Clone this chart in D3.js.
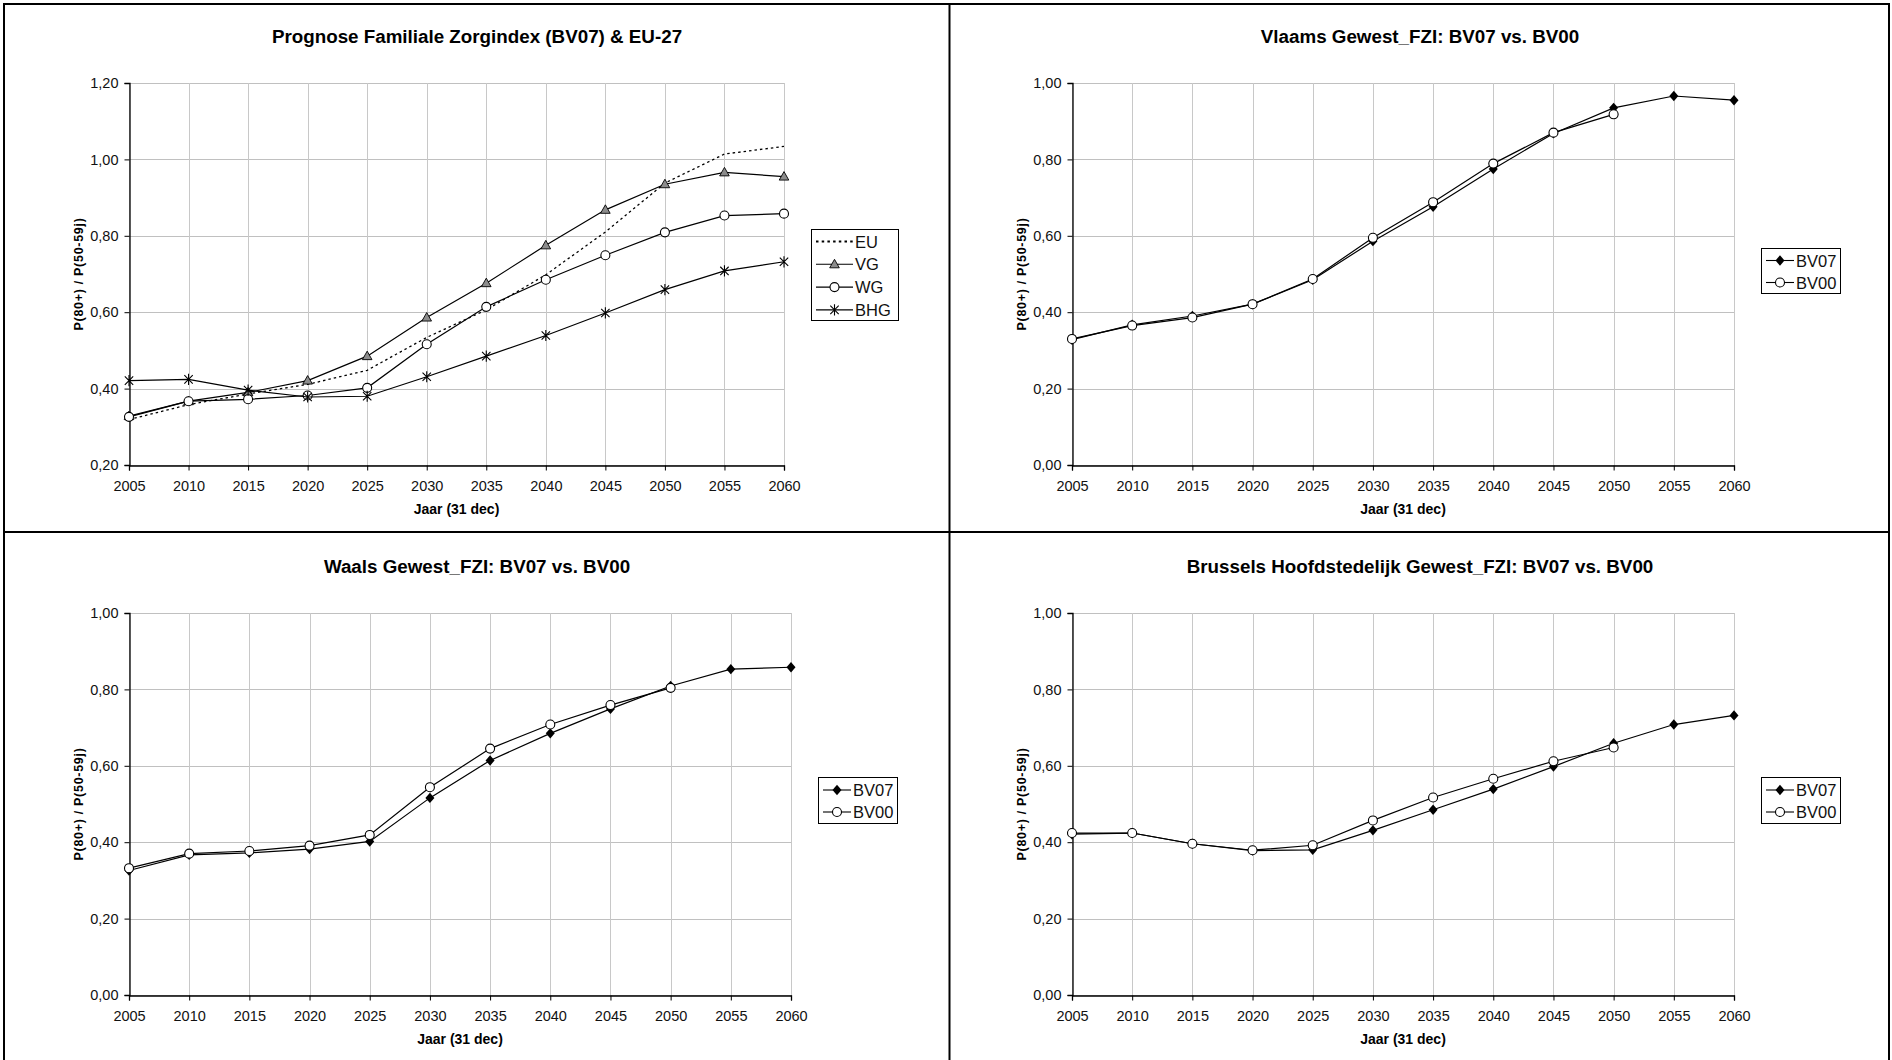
<!DOCTYPE html>
<html lang="nl">
<head>
<meta charset="utf-8">
<title>Prognose Familiale Zorgindex</title>
<script src="https://d3js.org/d3.v7.min.js"></script>
<style>
  body { margin: 0; background: #fff; }
  svg { display: block; font-family: "Liberation Sans", Arial, sans-serif; }
</style>
</head>
<body>
<svg id="chart" width="1892" height="1060"></svg>
<script>
// years on the x axis
var years = [2005, 2010, 2015, 2020, 2025, 2030, 2035, 2040, 2045, 2050, 2055, 2060]
var yearsBV00 = years.slice(0, 10)   // BV00 stops at 2050

// prognose BV07 per gewest
var vgBV07  = [0.328, 0.367, 0.390, 0.421, 0.485, 0.586, 0.676, 0.775, 0.868, 0.935, 0.966, 0.955]
var wgBV07  = [0.326, 0.367, 0.372, 0.382, 0.402, 0.516, 0.614, 0.685, 0.749, 0.809, 0.853, 0.858]
var bhgBV07 = [0.421, 0.424, 0.396, 0.378, 0.380, 0.431, 0.485, 0.539, 0.598, 0.659, 0.708, 0.732]
var euValues = [0.319, 0.358, 0.386, 0.411, 0.448, 0.534, 0.606, 0.698, 0.810, 0.938, 1.014, 1.034]

// older prognose BV00
var vgBV00  = [0.330, 0.365, 0.386, 0.421, 0.487, 0.595, 0.688, 0.789, 0.870, 0.918]
var wgBV00  = [0.332, 0.370, 0.377, 0.391, 0.419, 0.544, 0.645, 0.708, 0.759, 0.804]
var bhgBV00 = [0.424, 0.424, 0.396, 0.379, 0.392, 0.457, 0.517, 0.566, 0.612, 0.648]

var titles = [
  "Prognose Familiale Zorgindex (BV07) & EU-27",
  "Vlaams Gewest_FZI: BV07 vs. BV00",
  "Waals Gewest_FZI: BV07 vs. BV00",
  "Brussels Hoofdstedelijk Gewest_FZI: BV07 vs. BV00"
]
var xTitle = "Jaar (31 dec)"
var yTitle = "P(80+) / P(50-59j)"

var nl = d3.formatLocale({decimal: ",", thousands: ".", grouping: [3], currency: ["€", ""]})
var fmt = nl.format(".2f")

var svg = d3.select("#chart")

// markers (Excel style)
function markerPath(type) {
  if (type == "triangle") return "M0,-5L4.8,3.5L-4.8,3.5Z"
  if (type == "diamond") return "M0,-5.2L4.5,0L0,5.2L-4.5,0Z"
  if (type == "star") return "M-4.2,-4.2L4.2,4.2M-4.2,4.2L4.2,-4.2M0,-5.6L0,5.6"
  return null
}

function drawMarker(g, type, x, y) {
  if (type == "circle") {
    g.append("circle").attr("cx", x).attr("cy", y).attr("r", 4.5)
      .attr("fill", "#fff").attr("stroke", "#000").attr("stroke-width", 1.1)
  } else if (type == "triangle") {
    g.append("path").attr("d", markerPath(type)).attr("transform", "translate(" + x + "," + y + ")")
      .attr("fill", "#8c8c8c").attr("stroke", "#000").attr("stroke-width", 0.9)
  } else if (type == "diamond") {
    g.append("path").attr("d", markerPath(type)).attr("transform", "translate(" + x + "," + y + ")")
      .attr("fill", "#000")
  } else if (type == "star") {
    g.append("path").attr("d", markerPath(type)).attr("transform", "translate(" + x + "," + y + ")")
      .attr("fill", "none").attr("stroke", "#000").attr("stroke-width", 1.1)
  }
}

function drawPanel(cfg) {
  var g = svg.append("g")
  var x = d3.scaleLinear().domain([2005, 2060]).range(cfg.xr)
  var y = d3.scaleLinear().domain(cfg.yd).range(cfg.yr)
  var yTicks = d3.range(cfg.yd[0], cfg.yd[1] + 0.001, 0.2)

  // gridlines
  g.selectAll(".hg").data(yTicks).enter().append("line")
    .attr("x1", cfg.xr[0]).attr("x2", cfg.xr[1])
    .attr("y1", d => Math.round(y(d)) + 0.5).attr("y2", d => Math.round(y(d)) + 0.5)
    .attr("stroke", "#c0c0c0").attr("stroke-width", 1)
  g.selectAll(".vg").data(years).enter().append("line")
    .attr("x1", d => Math.round(x(d)) + 0.5).attr("x2", d => Math.round(x(d)) + 0.5)
    .attr("y1", cfg.yr[1]).attr("y2", cfg.yr[0])
    .attr("stroke", "#c8c8c8").attr("stroke-width", 1)

  // axes
  var yAxis = d3.axisLeft(y).tickValues(yTicks).tickFormat(fmt).tickSize(5).tickPadding(6)
  var xAxis = d3.axisBottom(x).tickValues(years).tickFormat(d3.format("d")).tickSize(5).tickPadding(10)
  var ya = g.append("g").attr("transform", "translate(" + (Math.round(cfg.xr[0]) + 0.5) + ",0)").call(yAxis)
  var xa = g.append("g").attr("transform", "translate(0," + (Math.round(cfg.yr[0]) + 0.5) + ")").call(xAxis)
  ;[ya, xa].forEach(function(a) {
    a.select(".domain").attr("stroke", "#000").attr("stroke-width", 1.3)
    a.selectAll(".tick line").attr("stroke", "#000")
    a.selectAll("text").attr("fill", "#111").style("font-size", "14.5px")
      .style("font-family", "Liberation Sans, Arial, sans-serif")
  })

  // titles
  g.append("text").attr("x", cfg.titleX).attr("y", cfg.yr[1] - 40)
    .attr("text-anchor", "middle").style("font-size", "18.8px").style("font-weight", "bold")
    .text(cfg.title)
  g.append("text").attr("x", (cfg.xr[0] + cfg.xr[1]) / 2).attr("y", cfg.yr[0] + 49)
    .attr("text-anchor", "middle").style("font-size", "14px").style("font-weight", "bold")
    .text(xTitle)
  g.append("text")
    .attr("transform", "translate(" + (cfg.xr[0] - 46) + "," + ((cfg.yr[0] + cfg.yr[1]) / 2) + ") rotate(-90)")
    .attr("text-anchor", "middle").style("font-size", "12.5px").style("font-weight", "bold")
    .style("letter-spacing", "0.7px")
    .text(yTitle)

  // series
  var line = d3.line().x(d => x(d[0])).y(d => y(d[1]))
  cfg.series.forEach(function(s) {
    var pts = s.values.map((v, i) => [s.years[i], v])
    g.append("path").datum(pts).attr("d", line)
      .attr("fill", "none").attr("stroke", "#000")
      .attr("stroke-width", s.dash ? 1.3 : 1.2)
      .attr("stroke-dasharray", s.dash ? "2.5,3" : null)
    if (s.marker) pts.forEach(p => drawMarker(g, s.marker, x(p[0]), y(p[1])))
  })

  // legend
  var L = cfg.legend
  var lg = g.append("g")
  lg.append("rect").attr("x", L.x + 0.5).attr("y", L.y + 0.5).attr("width", L.w).attr("height", L.h)
    .attr("fill", "#fff").attr("stroke", "#000").attr("stroke-width", 1)
  cfg.series.forEach(function(s, i) {
    var ey = L.y + L.first + i * L.step
    lg.append("line").attr("x1", L.x + 5).attr("x2", L.x + 5 + L.lineW)
      .attr("y1", ey).attr("y2", ey).attr("stroke", "#000")
      .attr("stroke-width", s.dash ? 2 : 1.1).attr("stroke-dasharray", s.dash ? "2.5,3.2" : null)
    if (s.marker) drawMarker(lg, s.marker, L.x + 5 + L.lineW / 2, ey)
    lg.append("text").attr("x", L.x + 7 + L.lineW).attr("y", ey + 6)
      .style("font-size", "16.5px").attr("fill", "#111").text(s.name)
  })
}

// panel frame
svg.append("rect").attr("x", 4).attr("y", 4).attr("width", 1885).attr("height", 1060)
  .attr("fill", "none").attr("stroke", "#000").attr("stroke-width", 2)
svg.append("line").attr("x1", 949.5).attr("x2", 949.5).attr("y1", 4).attr("y2", 1060)
  .attr("stroke", "#000").attr("stroke-width", 2)
svg.append("line").attr("x1", 4).attr("x2", 1889).attr("y1", 532).attr("y2", 532)
  .attr("stroke", "#000").attr("stroke-width", 2)

drawPanel({
  title: titles[0], titleX: 477, xr: [129, 784], yr: [465, 83], yd: [0.2, 1.2],
  legend: {x: 811, y: 229, w: 87, h: 91, first: 12.5, step: 22.8, lineW: 37},
  series: [
    {name: "EU", years: years, values: euValues, dash: true},
    {name: "VG", years: years, values: vgBV07, marker: "triangle"},
    {name: "WG", years: years, values: wgBV07, marker: "circle"},
    {name: "BHG", years: years, values: bhgBV07, marker: "star"}
  ]
})
drawPanel({
  title: titles[1], titleX: 1420, xr: [1072, 1734], yr: [465, 83], yd: [0, 1],
  legend: {x: 1761, y: 248, w: 79, h: 45, first: 12.5, step: 22, lineW: 28},
  series: [
    {name: "BV07", years: years, values: vgBV07, marker: "diamond"},
    {name: "BV00", years: yearsBV00, values: vgBV00, marker: "circle"}
  ]
})
drawPanel({
  title: titles[2], titleX: 477, xr: [129, 791], yr: [995, 613], yd: [0, 1],
  legend: {x: 818, y: 777, w: 79, h: 46, first: 13, step: 22, lineW: 28},
  series: [
    {name: "BV07", years: years, values: wgBV07, marker: "diamond"},
    {name: "BV00", years: yearsBV00, values: wgBV00, marker: "circle"}
  ]
})
drawPanel({
  title: titles[3], titleX: 1420, xr: [1072, 1734], yr: [995, 613], yd: [0, 1],
  legend: {x: 1761, y: 777, w: 79, h: 46, first: 13, step: 22, lineW: 28},
  series: [
    {name: "BV07", years: years, values: bhgBV07, marker: "diamond"},
    {name: "BV00", years: yearsBV00, values: bhgBV00, marker: "circle"}
  ]
})
</script>
</body>
</html>
